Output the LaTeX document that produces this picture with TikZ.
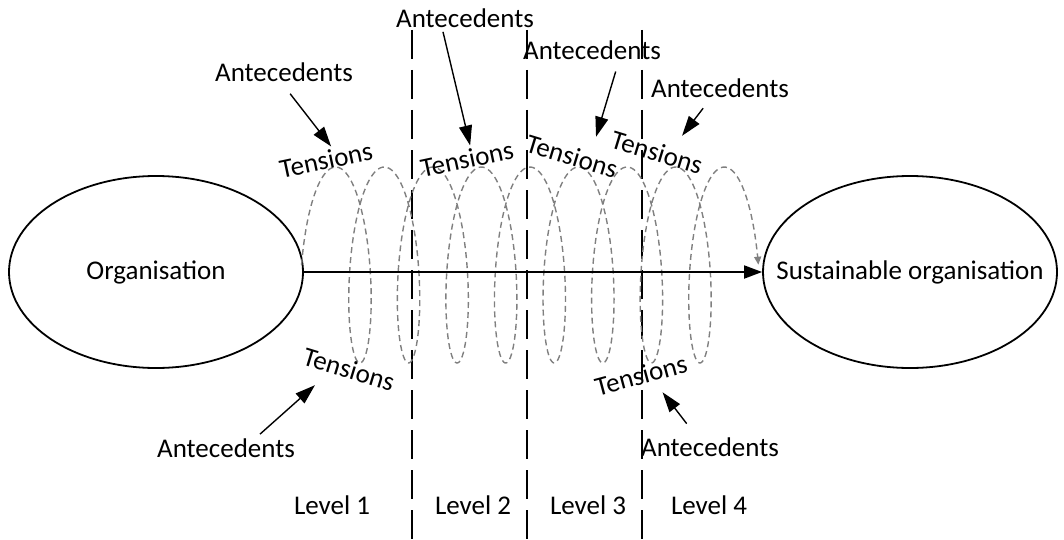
\documentclass[tikz,border=0pt]{standalone}
\usepackage{fontspec}
\setmainfont{Carlito}
\usetikzlibrary{arrows.meta, shapes.geometric}

\begin{document}
\begin{tikzpicture}[
  x=0.5pt, y=-0.5pt,
  every node/.style={font=\fontsize{13.5}{16}\selectfont},
  stage/.style={draw, ellipse, line width=0.9pt, minimum width=147pt, minimum height=96pt, inner sep=0pt},
  lbl/.style={inner sep=2pt},
  flow/.style={-{Triangle[length=9pt, width=6.5pt]}, line width=0.9pt},
  ante/.style={-{Triangle[length=10pt, width=6.5pt]}, line width=0.7pt},
  coil/.style={-{Triangle[length=4pt, width=3.5pt]}, dash pattern=on 3pt off 2pt, line width=0.7pt, gray},
  levelsep/.style={dash pattern=on 14.5pt off 5.5pt, line width=0.9pt},
]
\useasboundingbox (0,0) rectangle (1064,540);

% Level separators
\draw[levelsep] (412,30) -- (412,540);
\draw[levelsep] (527,30) -- (527,540);
\draw[levelsep] (642,30) -- (642,540);

% Start and end states
\node[stage] (org) at (156,272) {Organisation};
\node[stage] (sus) at (910,272) {\makebox[0pt]{Sustainable organisation}};

% Spiral of tensions
\draw[coil] plot[domain=1.5708:54.978, samples=700, variable=\t]
  ({311.4 + 7.73*\t - 22*sin(\t r)}, {265 + 98*cos(\t r)});

\draw[flow] (org) -- (sus);

% Tensions
\node[lbl, rotate=12] (t1) at (326,160) {Tensions};
\node[lbl, rotate=12] (t2) at (467,159) {Tensions};
\node[lbl, rotate=-17] (t3) at (572,156) {Tensions};
\node[lbl, rotate=-17] (t4) at (657,152) {Tensions};
\node[lbl, rotate=-17] (t5) at (349,369) {Tensions};
\node[lbl, rotate=15] (t6) at (641,375) {Tensions};

% Antecedents
\node[lbl] (a1) at (284,72) {Antecedents};
\node[lbl] (a2) at (465,18) {Antecedents};
\node[lbl] (a3) at (592,50) {Antecedents};
\node[lbl] (a4) at (720,88) {Antecedents};
\node[lbl] (a5) at (226,448) {Antecedents};
\node[lbl] (a6) at (710,447) {Antecedents};

\draw[ante, shorten <=5pt] (a1.south) -- ([xshift=4pt]t1.north);
\draw[ante] ([xshift=-11pt]a2.south) -- ([xshift=3pt]t2.north);
\draw[ante, shorten <=4pt] ([xshift=13pt]a3.south) -- ([shift={(10pt,3pt)}]t3.north);
\draw[ante, shorten <=4pt] ([xshift=-6pt]a4.south) -- ([shift={(10.5pt,1.5pt)}]t4.north);
\draw[ante] ([xshift=17pt]a5.north) -- ([shift={(-15pt,-1.5pt)}]t5.south);
\draw[ante, shorten <=6pt] ([xshift=-8pt]a6.north) -- ([shift={(9pt,-2pt)}]t6.south);

% Levels
\node (l1) at (332,505) {Level 1};
\node (l2) at (473,505) {Level 2};
\node (l3) at (588,505) {Level 3};
\node (l4) at (709,505) {Level 4};

\end{tikzpicture}
\end{document}
